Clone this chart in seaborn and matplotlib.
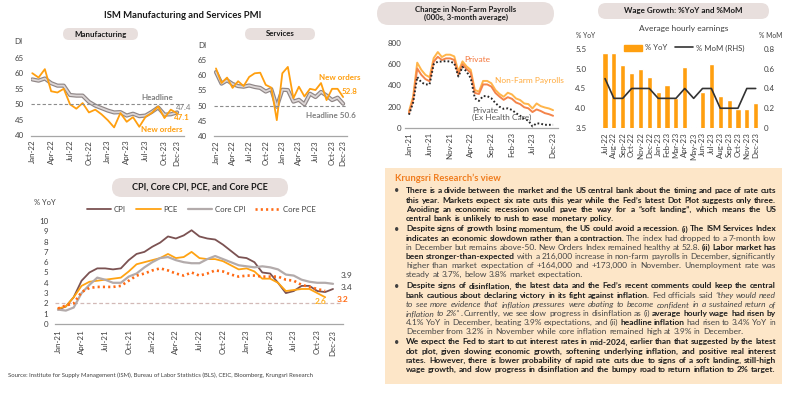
import re
import numpy as np
import pandas as pd
import matplotlib
matplotlib.use("Agg")
import matplotlib.pyplot as plt
import matplotlib.patheffects as pe
from matplotlib.patches import FancyBboxPatch, Rectangle, Patch
from matplotlib.lines import Line2D
import seaborn as sns

# ---------------- data ----------------
ism_months = pd.date_range("2022-01-01", "2023-12-01", freq="MS").strftime("%b-%y").tolist()
ism_ticks = ["Jan-22", "Apr-22", "Jul-22", "Oct-22", "Jan-23", "Apr-23", "Jul-23", "Oct-23", "Dec-23"]

mfg_headline = [58.0, 57.6, 58.3, 56.8, 56.0, 56.0, 53.0, 52.8, 52.8, 50.8, 49.6, 48.8,
                48.0, 47.4, 47.5, 46.4, 47.0, 46.2, 46.4, 47.6, 49.0, 46.7, 46.8, 47.4]
mfg_new_orders = [60.0, 58.6, 61.3, 54.2, 53.8, 55.0, 50.0, 48.6, 50.4, 47.4, 48.3, 46.8,
                  44.9, 42.6, 47.2, 44.4, 45.9, 42.8, 46.0, 47.3, 49.3, 45.6, 48.3, 47.1]
srv_headline = [61.0, 57.2, 58.3, 57.1, 56.4, 56.2, 56.6, 56.1, 55.8, 54.6, 55.4, 49.6,
                55.2, 55.1, 51.3, 51.9, 50.4, 53.9, 52.8, 54.5, 53.3, 51.8, 52.6, 50.6]
srv_new_orders = [62.2, 57.4, 59.2, 55.8, 58.0, 56.4, 59.4, 60.6, 60.8, 56.8, 55.9, 45.2,
                  60.6, 62.7, 52.4, 56.2, 53.0, 55.5, 55.1, 57.4, 51.8, 55.5, 55.5, 52.8]

nfp_months = pd.date_range("2021-01-01", "2023-12-01", freq="MS").strftime("%b-%y").tolist()
nfp_ticks = ["Jan-21", "Jun-21", "Nov-21", "Apr-22", "Sep-22", "Feb-23", "Jul-23", "Dec-23"]
nfp_total = [158, 294, 615, 547, 500, 478, 658, 715, 668, 690, 690, 674,
             532, 627, 579, 547, 358, 342, 443, 443, 421, 358, 320, 294,
             332, 316, 278, 263, 231, 225, 184, 231, 206, 193, 184, 168]
nfp_private = [140, 265, 560, 500, 460, 440, 625, 670, 640, 655, 655, 640,
               505, 600, 555, 520, 330, 320, 410, 410, 390, 330, 295, 265,
               290, 275, 240, 225, 195, 185, 150, 175, 160, 140, 130, 115]
nfp_private_ex_hc = [125, 240, 480, 430, 410, 410, 600, 625, 625, 630, 625, 610,
                     485, 575, 530, 470, 280, 255, 300, 300, 280, 235, 200, 180,
                     185, 170, 140, 115, 85, 70, 15, 45, 40, 30, 30, 30]

wage_months = pd.date_range("2022-07-01", "2023-12-01", freq="MS").strftime("%b-%y").tolist()
wage_yoy = [5.4, 5.4, 5.1, 4.9, 5.0, 4.8, 4.4, 4.6, 4.25, 5.05, 3.53, 4.4,
            5.13, 4.31, 4.22, 3.98, 3.97, 4.14]
wage_mom = [0.5, 0.3, 0.3, 0.4, 0.4, 0.4, 0.3, 0.3, 0.3, 0.4, 0.3, 0.4,
            0.4, 0.2, 0.2, 0.2, 0.4, 0.4]

cpi_ticks = ["Jan-21", "Apr-21", "Jul-21", "Oct-21", "Jan-22", "Apr-22", "Jul-22",
             "Oct-22", "Jan-23", "Apr-23", "Jul-23", "Oct-23", "Dec-23"]
cpi = [1.4, 1.7, 2.6, 4.2, 5.0, 5.4, 5.4, 5.3, 5.4, 6.2, 6.8, 7.0,
       7.5, 7.9, 8.5, 8.3, 8.6, 9.1, 8.5, 8.3, 8.2, 7.7, 7.1, 6.5,
       6.4, 6.0, 5.0, 4.9, 4.0, 3.0, 3.2, 3.7, 3.7, 3.2, 3.1, 3.4]
core_cpi = [1.4, 1.3, 1.6, 3.0, 3.8, 4.5, 4.3, 4.0, 4.0, 4.6, 4.9, 5.5,
            6.0, 6.4, 6.5, 6.2, 6.0, 5.9, 5.9, 6.3, 6.6, 6.3, 6.0, 5.7,
            5.6, 5.5, 5.6, 5.5, 5.3, 4.8, 4.7, 4.3, 4.1, 4.0, 4.0, 3.9]
pce = [1.5, 1.7, 2.6, 3.7, 4.1, 4.2, 4.3, 4.4, 4.5, 5.1, 5.8, 6.0,
       6.2, 6.4, 6.8, 6.4, 6.5, 7.0, 6.4, 6.3, 6.3, 6.1, 5.7, 5.3,
       5.4, 5.1, 4.4, 4.4, 4.0, 3.2, 3.3, 3.4, 3.4, 3.0, 2.6]
core_pce = [1.5, 1.8, 2.0, 3.1, 3.5, 3.6, 3.6, 3.6, 3.7, 4.2, 4.7, 4.9,
            5.2, 5.4, 5.2, 4.9, 4.7, 5.0, 4.7, 4.9, 5.2, 5.1, 4.8, 4.6,
            4.7, 4.7, 4.6, 4.6, 4.6, 4.3, 4.2, 3.8, 3.6, 3.4, 3.2]

# ---------------- style ----------------
sns.set_theme(style="white")
plt.rcParams["font.family"] = ["Lato", "DejaVu Sans"]

ORANGE = "#FF9F0F"
GREY_TXT = "#7F7F7F"
TICK_C = "#404040"
TICK_SIZE = 5.7

W, H = 800, 393
fig = plt.figure(figsize=(8, 3.93), dpi=100)


def box(x0, y0, x1, y1):
    return [x0 / W, 1 - y1 / H, (x1 - x0) / W, (y1 - y0) / H]


def fx(x):
    return x / W


def fy(y):
    return 1 - y / H


def pill(x0, y0, x1, y1, text, size=5.5):
    h = (y1 - y0) / 100
    fig.add_artist(FancyBboxPatch((x0 / 100, (H - y1) / 100), (x1 - x0) / 100, h,
                                  boxstyle=f"round,pad=0,rounding_size={h / 2}",
                                  transform=fig.dpi_scale_trans,
                                  facecolor="#E8DFDD", edgecolor="none", zorder=0))
    fig.text(fx((x0 + x1) / 2), fy((y0 + y1) / 2), text, ha="center", va="center",
             fontsize=size, weight="bold", color="#1A1A1A", linespacing=1.15)


def tidy(ax, ypad=4, xpad=3, bottom=True):
    sns.despine(ax=ax, left=True, bottom=not bottom)
    ax.spines["bottom"].set_color("#A6A6A6")
    ax.spines["bottom"].set_linewidth(0.9)
    ax.tick_params(axis="y", length=0, labelsize=TICK_SIZE, colors=TICK_C, pad=ypad)
    ax.tick_params(axis="x", length=0, labelsize=TICK_SIZE, colors=TICK_C, pad=xpad)
    ax.set_xlabel("")
    ax.set_ylabel("")
    ax.patch.set_alpha(0)


headline_fx = [pe.Stroke(linewidth=3.0, foreground="#8F8686"), pe.Normal()]

# ---------------- ISM ----------------
fig.text(fx(183), fy(15), "ISM Manufacturing and Services PMI", ha="center", va="center",
         fontsize=6.8, weight="bold", color="#1A1A1A")
pill(63, 28, 138, 40, "Manufacturing", size=5.7)
pill(245, 28, 315, 40, "Services", size=5.7)

x_ism = np.arange(len(ism_months))
tick_pos = [ism_months.index(t) for t in ism_ticks]

ax = fig.add_axes(box(31, 52, 184, 135.5))
sns.lineplot(x=x_ism, y=mfg_headline, ax=ax, color="#DCD6D6", lw=1.3, path_effects=headline_fx)
sns.lineplot(x=x_ism, y=mfg_new_orders, ax=ax, color=ORANGE, lw=1.3)
ax.axhline(50, color="#8C8C8C", ls="--", lw=0.8, dashes=(3, 2))
ax.set_xlim(-0.2, 24.1)
ax.set_ylim(40, 66.8)
ax.set_yticks(range(40, 66, 5))
ax.set_xticks(tick_pos, ism_ticks, rotation=90)
tidy(ax, ypad=5, xpad=3)
fig.text(fx(18), fy(42), "DI", fontsize=TICK_SIZE, color=TICK_C, ha="center", va="center")
fig.text(fx(157), fy(98), "Headline", fontsize=5.8, weight="bold", color=GREY_TXT, ha="center", va="center")
fig.text(fx(176), fy(107), "47.4", fontsize=5.6, color=GREY_TXT, ha="left", va="center")
fig.text(fx(174), fy(117), "47.1", fontsize=5.8, weight="bold", color=ORANGE, ha="left", va="center")
fig.text(fx(162), fy(130), "New orders", fontsize=5.8, weight="bold", color=ORANGE, ha="center", va="center")

ax = fig.add_axes(box(214, 52, 347, 136))
sns.lineplot(x=x_ism, y=srv_headline, ax=ax, color="#DCD6D6", lw=1.3, path_effects=headline_fx)
sns.lineplot(x=x_ism, y=srv_new_orders, ax=ax, color=ORANGE, lw=1.3)
ax.axhline(50, color="#8C8C8C", ls="--", lw=0.8, dashes=(3, 2))
ax.set_xlim(-0.36, 23.7)
ax.set_ylim(40, 67.6)
ax.set_yticks(range(40, 66, 5))
ax.set_xticks(tick_pos, ism_ticks, rotation=90)
tidy(ax, ypad=5, xpad=3)
fig.text(fx(202), fy(45), "DI", fontsize=TICK_SIZE, color=TICK_C, ha="center", va="center")
fig.text(fx(340), fy(77), "New orders", fontsize=5.8, weight="bold", color=ORANGE, ha="center", va="center")
fig.text(fx(350), fy(91), "52.8", fontsize=5.8, weight="bold", color=ORANGE, ha="center", va="center")
fig.text(fx(331), fy(116), "Headline 50.6", fontsize=5.8, weight="bold", color=GREY_TXT, ha="center", va="center")

# ---------------- Non-farm payrolls ----------------
pill(377, 2, 554, 25, "Change in Non-Farm Payrolls\n(000s, 3-month average)", size=5.6)
x_nfp = np.arange(len(nfp_months))
ax = fig.add_axes(box(405, 38, 558, 128))
sns.lineplot(x=x_nfp, y=nfp_total, ax=ax, color="#FFB54A", lw=1.4)
sns.lineplot(x=x_nfp, y=nfp_private, ax=ax, color="#F4844A", lw=1.4)
sns.lineplot(x=x_nfp, y=nfp_private_ex_hc, ax=ax, color="#262626", lw=1.4, linestyle=(0, (0.9, 1.1)))
ax.set_xlim(-0.97, 36.2)
ax.set_ylim(0, 847)
ax.set_yticks(range(0, 801, 200))
ax.set_xticks([nfp_months.index(t) for t in nfp_ticks], nfp_ticks, rotation=90)
tidy(ax, ypad=2.5, xpad=3)
fig.text(fx(464), fy(59), "Private", fontsize=6.0, color="#F4763B", ha="left", va="center")
fig.text(fx(495), fy(80), "Non-Farm Payrolls", fontsize=6.0, color="#FFAA3C", ha="left", va="center")
fig.text(fx(472), fy(114), "Private\n(Ex Health Care)", fontsize=6.0, color="#595959",
         ha="left", va="center", linespacing=1.1)

# ---------------- Wage growth ----------------
pill(598, 3, 769, 19, "Wage Growth: %YoY and %MoM", size=5.8)
fig.text(fx(684), fy(29), "Average hourly earnings", fontsize=6.0, color=TICK_C, ha="center", va="center")
fig.text(fx(576), fy(35), "% YoY", fontsize=4.9, color=TICK_C, ha="left", va="center")
fig.text(fx(782), fy(35), "% MoM", fontsize=4.9, color=TICK_C, ha="right", va="center")
ax = fig.add_axes(box(599, 45, 761, 128))
sns.barplot(x=wage_months, y=wage_yoy, ax=ax, color=ORANGE, width=0.58, saturation=1)
ax.set_ylim(3.5, 5.6)
ax.set_yticks([3.5, 4.0, 4.5, 5.0, 5.5])
ax.set_xticks(range(len(wage_months)), wage_months, rotation=90)
tidy(ax, ypad=9, xpad=3, bottom=False)
ax2 = ax.twinx()
sns.lineplot(x=np.arange(len(wage_months)), y=wage_mom, ax=ax2, color="#333333", lw=1.2)
ax2.set_ylim(0, 0.84)
ax2.set_yticks([0, 0.2, 0.4, 0.6, 0.8], ["0", "0.2", "0.4", "0.6", "0.8"])
sns.despine(ax=ax2, left=True, right=True, bottom=True)
ax2.tick_params(axis="y", length=0, labelsize=TICK_SIZE, colors=TICK_C, pad=2)
ax2.set_ylabel("")
ax.set_xlim(-0.68, 17.6)
ax.legend(handles=[Patch(color=ORANGE, label="% YoY"),
                   Line2D([], [], color="#333333", lw=1.2, label="% MoM (RHS)")],
          loc="center", bbox_to_anchor=(fx(684), fy(48)), bbox_transform=fig.transFigure,
          ncol=2, frameon=False, fontsize=5.6, handlelength=2.4, handleheight=0.9,
          handletextpad=0.3, columnspacing=1.0, labelcolor=TICK_C)

# ---------------- CPI / PCE ----------------
pill(112, 178, 288, 197, "CPI, Core CPI, PCE, and Core PCE", size=6.6)
fig.text(fx(45), fy(202), "% YoY", fontsize=5.4, color=TICK_C, ha="center", va="center")
ax = fig.add_axes(box(55, 218, 343, 324))
x_cpi = np.arange(len(cpi))
ax.axhline(2, color="#D2B9B7", ls="--", lw=0.9, dashes=(3, 2))
sns.lineplot(x=x_cpi, y=cpi, ax=ax, color="#7B5252", lw=1.3, label="CPI")
sns.lineplot(x=np.arange(len(pce)), y=pce, ax=ax, color="#FFA312", lw=1.3, label="PCE")
sns.lineplot(x=x_cpi, y=core_cpi, ax=ax, color="#B3ABAB", lw=1.6, label="Core CPI")
sns.lineplot(x=np.arange(len(core_pce)), y=core_pce, ax=ax, color="#FF6A14", lw=1.9,
             linestyle=(0, (0.8, 1.2)), label="Core PCE")
ax.set_xlim(-0.38, 36.27)
ax.set_ylim(0, 10.29)
ax.set_yticks(range(0, 11))
ax.set_xticks([nfp_months.index(t) for t in cpi_ticks], cpi_ticks, rotation=90)
tidy(ax, ypad=5, xpad=4)
ax.legend(loc="center", bbox_to_anchor=(fx(201), fy(209)), bbox_transform=fig.transFigure,
          ncol=4, frameon=False, fontsize=5.6, handlelength=3.2, handletextpad=0.3,
          columnspacing=1.3, labelcolor=TICK_C)
fig.text(fx(341), fy(275), "3.9", fontsize=6.0, color="#404040", ha="left", va="center")
fig.text(fx(341), fy(288), "3.4", fontsize=6.0, color="#404040", ha="left", va="center")
fig.text(fx(337), fy(299), "3.2", fontsize=6.0, weight="bold", color="#FF6A14", ha="left", va="center")
fig.text(fx(315), fy(302), "2.6", fontsize=6.0, weight="bold", color="#FFB020", ha="left", va="center")

fig.text(fx(8), fy(375), "Source: Institute for Supply Management (ISM), Bureau of Labor Statistics (BLS), "
         "CEIC, Bloomberg, Krungsri Research", fontsize=4.3, color="#404040", ha="left", va="center")

# ---------------- Krungsri view box ----------------
fig.add_artist(Rectangle((385 / 100, (H - 384) / 100), 397 / 100, 216 / 100,
                         transform=fig.dpi_scale_trans, facecolor="#FDE6C8",
                         edgecolor="none", zorder=0))
fig.text(fx(395), fy(178), "Krungsri Research’s view", fontsize=6.8, weight="bold",
         color="#F07D1F", ha="left", va="center")

B, R, I = "b", "r", "i"
view_paragraphs = [
    [[(B, "There is a divide between the market and the US central bank about the timing and pace of rate cuts")],
     [(B, "this year. Markets expect six rate cuts this year while the Fed’s latest Dot Plot suggests only three.")],
     [(B, "Avoiding an economic recession would pave the way for a “soft landing”, which means the US")],
     [(B, "central bank is unlikely to rush to ease monetary policy.")]],
    [[(B, "Despite signs of growth losing momentum, the US could avoid a recession. (i) The ISM Services Index")],
     [(B, "indicates an economic slowdown rather than a contraction."), (R, " The index had dropped to a 7-month low")],
     [(R, "in December but remains above-50. New Orders Index remained healthy at 52.8. "), (B, "(ii) Labor market has")],
     [(B, "been stronger-than-expected"), (R, " with a 216,000 increase in non-farm payrolls in December, significantly")],
     [(R, "higher than market expectation of +164,000 and +173,000 in November. Unemployment rate was")],
     [(R, "steady at 3.7%, below 3.8% market expectation.")]],
    [[(B, "Despite signs of disinflation, the latest data and the Fed’s recent comments could keep the central")],
     [(B, "bank cautious about declaring victory in its fight against inflation."), (R, " Fed officials said "),
      (I, "“they would need")],
     [(I, "to see more evidence that inflation pressures were abating to become confident in a sustained return of")],
     [(I, "inflation to 2%”"), (R, ". Currently, we see slow progress in disinflation as (i) "),
      (B, "average hourly wage had risen by")],
     [(R, "4.1% YoY in December, beating 3.9% expectations, and (ii) "), (B, "headline inflation"),
      (R, " had risen to 3.4% YoY in")],
     [(R, "December from 3.2% in November while core inflation remained high at 3.9% in December.")]],
    [[(B, "We expect the Fed to start to cut interest rates in mid-2024, earlier than that suggested by the latest")],
     [(B, "dot plot, given slowing economic growth, softening underlying inflation, and positive real interest")],
     [(B, "rates. However, there is lower probability of rapid rate cuts due to signs of a soft landing, still-high")],
     [(B, "wage growth, and slow progress in disinflation and the bumpy road to return inflation to 2% target.")]],
]
para_top = [191, 229, 286, 342]
line_gap = 9.2
text_left, text_right = 406, 776
styles = {B: dict(weight="bold", color="#1F1F1F"),
          R: dict(weight="normal", color="#454545"),
          I: dict(weight="normal", style="italic", color="#454545")}

renderer = fig.canvas.get_renderer()


def tokens(line):
    # word, style, has-space-before
    out = []
    pending = False
    for kind, txt in line:
        for m in re.finditer(r"(\s*)(\S+)", txt):
            out.append((m.group(2), kind, bool(m.group(1)) or pending))
            pending = False
        if txt.endswith(" "):
            pending = True
    return out


def text_width(word, kind, size):
    t = fig.text(0, 0, word, fontsize=size, **styles[kind])
    w = t.get_window_extent(renderer).width
    t.remove()
    return w


# pick a body size so the fullest line just fits the column
probe_size = 5.0
widest = 0
for para in view_paragraphs:
    for line in para[:-1]:
        full = sum(text_width(w, k, probe_size) for w, k, _ in tokens(line))
        n_sp = sum(1 for _, _, s in tokens(line)[1:] if s)
        widest = max(widest, full + n_sp * 1.3)
body_size = probe_size * (text_right - text_left) / widest

probe = fig.text(0, 0, "a a", fontsize=body_size)
w_sp = probe.get_window_extent(renderer).width
probe.set_text("aa")
w_sp -= probe.get_window_extent(renderer).width
probe.remove()

for p_i, para in enumerate(view_paragraphs):
    y0 = para_top[p_i]
    fig.text(fx(397), fy(y0), "•", fontsize=6.5, color="#404040", ha="center", va="center")
    for l_i, line in enumerate(para):
        words = []
        for k, (wtxt, kind, sp) in enumerate(tokens(line)):
            t = fig.text(0, 0, wtxt, fontsize=body_size, va="baseline", ha="left", **styles[kind])
            words.append((t, t.get_window_extent(renderer).width, sp and k > 0))
        n_gaps = sum(1 for w in words if w[2])
        total = sum(w[1] for w in words)
        last = l_i == len(para) - 1
        gap = w_sp if (last or n_gaps == 0) else (text_right - text_left - total) / n_gaps
        xc = text_left
        yb = y0 + l_i * line_gap + 2.4
        for t, wd, sp in words:
            if sp:
                xc += gap
            t.set_position((fx(xc), fy(yb)))
            xc += wd

fig.savefig("out.png", dpi=100)
